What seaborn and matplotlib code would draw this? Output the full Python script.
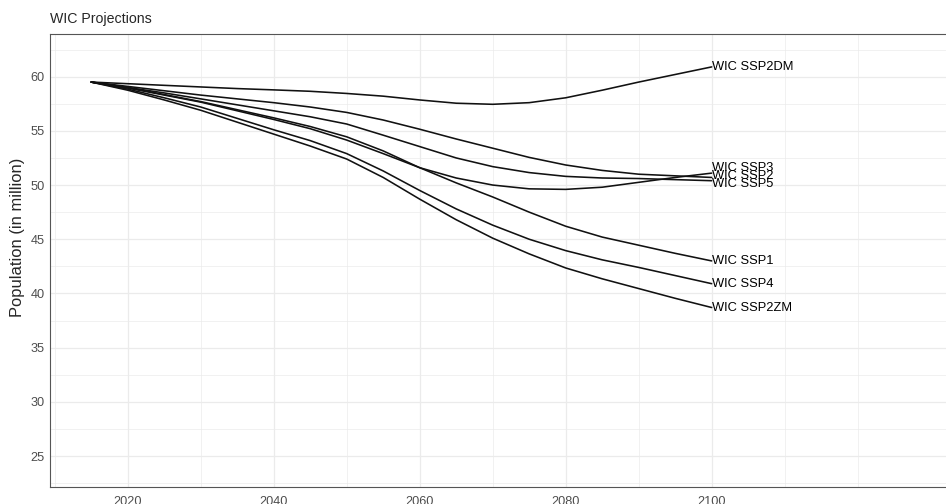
import matplotlib
matplotlib.use("Agg")
import matplotlib.pyplot as plt
import pandas as pd
import seaborn as sns

# WIC population projections (million)
years = list(range(2015, 2101, 5))
scenarios = ["WIC SSP2DM", "WIC SSP3", "WIC SSP2", "WIC SSP5", "WIC SSP1", "WIC SSP4", "WIC SSP2ZM"]
ssp2dm = [59.5, 59.35, 59.2, 59.05, 58.9, 58.78, 58.65, 58.45, 58.2, 57.85, 57.55, 57.45, 57.6, 58.05, 58.75, 59.5, 60.2, 60.9]
ssp3 = [59.5, 58.95, 58.3, 57.65, 56.85, 56.05, 55.2, 54.15, 52.9, 51.6, 50.65, 50.0, 49.65, 49.6, 49.8, 50.25, 50.7, 51.1]
ssp2 = [59.5, 59.1, 58.7, 58.3, 57.95, 57.6, 57.2, 56.7, 56.0, 55.15, 54.25, 53.4, 52.55, 51.85, 51.35, 51.0, 50.85, 50.7]
ssp5 = [59.5, 59.0, 58.5, 57.95, 57.4, 56.85, 56.3, 55.63, 54.6, 53.55, 52.5, 51.7, 51.15, 50.8, 50.65, 50.6, 50.5, 50.4]
ssp1 = [59.5, 59.0, 58.35, 57.7, 56.95, 56.2, 55.4, 54.45, 53.15, 51.6, 50.2, 48.9, 47.5, 46.2, 45.2, 44.45, 43.7, 43.0]
ssp4 = [59.5, 58.85, 58.05, 57.2, 56.15, 55.1, 54.1, 52.9, 51.3, 49.5, 47.8, 46.3, 45.0, 43.95, 43.1, 42.4, 41.65, 40.9]
ssp2zm = [59.5, 58.75, 57.85, 56.9, 55.8, 54.7, 53.6, 52.4, 50.7, 48.7, 46.8, 45.1, 43.65, 42.35, 41.35, 40.45, 39.55, 38.7]
label_y = [60.85, 51.58, 50.83, 50.06, 42.95, 40.85, 38.63]

series = [ssp2dm, ssp3, ssp2, ssp5, ssp1, ssp4, ssp2zm]
df = pd.concat([pd.DataFrame({"year": years, "pop": vals, "scenario": name})
                for name, vals in zip(scenarios, series)], ignore_index=True)

sns.set_style("white")
plt.rcParams["font.family"] = ["Liberation Sans", "DejaVu Sans"]

fig = plt.figure(figsize=(9.46, 5.04), dpi=100)
ax = fig.add_axes([0.0529, 0.0337, 0.9471, 0.8998])

sns.lineplot(data=df, x="year", y="pop", hue="scenario", palette=["#111111"] * 7,
             legend=False, linewidth=1.15, ax=ax)

for name, ly in zip(scenarios, label_y):
    ax.text(2100, ly, name, ha="left", va="center", fontsize=9.3, color="black")

ax.set_xlim(2009.36, 2132.1)
ax.set_ylim(22.14, 63.98)
ax.set_xticks([2020, 2040, 2060, 2080, 2100])
ax.set_xticks([2010, 2030, 2050, 2070, 2090, 2110, 2120], minor=True)
ax.set_yticks([25, 30, 35, 40, 45, 50, 55, 60])
ax.set_yticks([22.5, 27.5, 32.5, 37.5, 42.5, 47.5, 52.5, 57.5, 62.5], minor=True)
ax.grid(which="major", color="#EBEBEB", linewidth=0.9)
ax.grid(which="minor", color="#EBEBEB", linewidth=0.5)
ax.set_axisbelow(True)
ax.tick_params(which="minor", length=0)
ax.tick_params(which="major", length=2.4, width=0.7, color="#333333",
               labelcolor="#4D4D4D", labelsize=9.2)
ax.tick_params(axis="x", pad=4)
ax.tick_params(axis="y", pad=1.5)
for side in ["left", "top", "bottom"]:
    ax.spines[side].set_color("#555555")
    ax.spines[side].set_linewidth(0.8)
ax.spines["right"].set_visible(False)
ax.set_xlabel("")
ax.set_ylabel("")

fig.text(0.0185, 0.529, "Population (in million)", rotation=90, ha="center", va="center", fontsize=11.9)
fig.text(0.0529, 0.962, "WIC Projections", ha="left", va="center", fontsize=10.2)

fig.savefig("out.png", dpi=100)
